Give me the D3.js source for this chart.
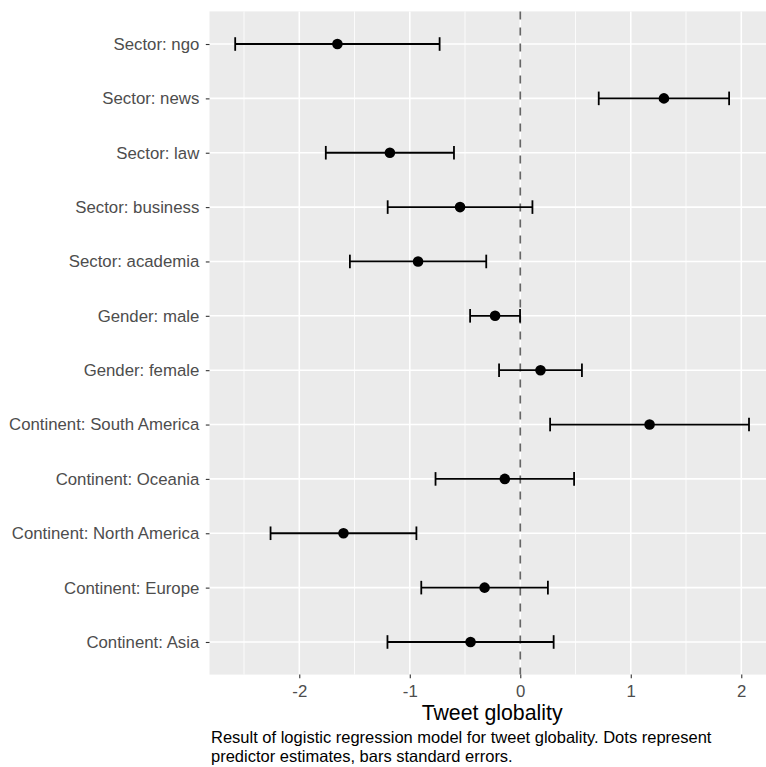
<!DOCTYPE html>
<html>
<head>
<meta charset="utf-8">
<script src="https://cdn.jsdelivr.net/npm/d3@7"></script>
<style>
    body { margin: 0; background: #fff; }
    text { font-family: "Liberation Sans", Arial, Helvetica, sans-serif; }
</style>
</head>
<body>
<div id="chart"></div>
<script>
/* coefficient plot: logistic regression for tweet globality */
const predictors = [
    "Sector: ngo", "Sector: news", "Sector: law", "Sector: business", "Sector: academia",
    "Gender: male", "Gender: female",
    "Continent: South America", "Continent: Oceania", "Continent: North America",
    "Continent: Europe", "Continent: Asia"
];
const estimates = [-1.655, 1.30, -1.18, -0.545, -0.925, -0.228, 0.183, 1.17, -0.14, -1.60, -0.323, -0.45];
const stdErrors = [0.925, 0.59, 0.58, 0.655, 0.617, 0.226, 0.375, 0.90, 0.627, 0.66, 0.573, 0.752];
const xTicks = [-2, -1, 0, 1, 2];
const xMinorTicks = [-2.5, -1.5, -0.5, 0.5, 1.5];
const captionLines = [
    "Result of logistic regression model for tweet globality. Dots represent",
    "predictor estimates, bars standard errors."
];

const rows = predictors.map((p, i) => ({
    name: p,
    est: estimates[i],
    lo: estimates[i] - stdErrors[i],
    hi: estimates[i] + stdErrors[i]
}));

const W = 766, H = 767;
const panel = { left: 209.5, top: 11.4, bottom: 674.6 };

const svg = d3.select("#chart")
    .append("svg")
    .attr("width", W)
    .attr("height", H);

// ggplot-like 5% expansion of the data range
const lo = d3.min(rows, d => d.lo), hi = d3.max(rows, d => d.hi);
const pad = (hi - lo) * 0.05;
const xScale = d3.scaleLinear()
    .domain([lo - pad, hi + pad])
    .range([panel.left, 774.7]);
const panelRight = xScale.range()[1];

const yScale = d3.scalePoint()
    .domain(predictors)
    .range([panel.top, panel.bottom])
    .padding(0.6);

// panel background
svg.append("rect")
    .attr("x", panel.left)
    .attr("y", panel.top)
    .attr("width", panelRight - panel.left)
    .attr("height", panel.bottom - panel.top)
    .attr("fill", "#EBEBEB");

// grid lines
svg.selectAll(".minor")
    .data(xMinorTicks)
    .enter().append("line")
    .attr("x1", d => xScale(d)).attr("x2", d => xScale(d))
    .attr("y1", panel.top).attr("y2", panel.bottom)
    .attr("stroke", "#fff").attr("stroke-width", 0.8);

svg.selectAll(".vmajor")
    .data(xTicks)
    .enter().append("line")
    .attr("x1", d => xScale(d)).attr("x2", d => xScale(d))
    .attr("y1", panel.top).attr("y2", panel.bottom)
    .attr("stroke", "#fff").attr("stroke-width", 1.6);

svg.selectAll(".hmajor")
    .data(predictors)
    .enter().append("line")
    .attr("x1", panel.left).attr("x2", panelRight)
    .attr("y1", d => yScale(d)).attr("y2", d => yScale(d))
    .attr("stroke", "#fff").attr("stroke-width", 1.6);

// reference line at zero
svg.append("line")
    .attr("x1", xScale(0)).attr("x2", xScale(0))
    .attr("y1", panel.top).attr("y2", panel.bottom)
    .attr("stroke", "#666")
    .attr("stroke-width", 1.7)
    .attr("stroke-dasharray", "8,8");

// error bars
const capH = yScale.step() * 0.125;
const bars = svg.selectAll(".bar")
    .data(rows)
    .enter().append("g")
    .attr("class", "bar")
    .attr("stroke", "#000")
    .attr("stroke-width", 1.8);

bars.append("line")
    .attr("x1", d => xScale(d.lo)).attr("x2", d => xScale(d.hi))
    .attr("y1", d => yScale(d.name)).attr("y2", d => yScale(d.name));
bars.append("line")
    .attr("x1", d => xScale(d.lo)).attr("x2", d => xScale(d.lo))
    .attr("y1", d => yScale(d.name) - capH).attr("y2", d => yScale(d.name) + capH);
bars.append("line")
    .attr("x1", d => xScale(d.hi)).attr("x2", d => xScale(d.hi))
    .attr("y1", d => yScale(d.name) - capH).attr("y2", d => yScale(d.name) + capH);

// point estimates
svg.selectAll(".dot")
    .data(rows)
    .enter().append("circle")
    .attr("class", "dot")
    .attr("cx", d => xScale(d.est))
    .attr("cy", d => yScale(d.name))
    .attr("r", 5.3)
    .attr("fill", "#000");

// axes
const xAxis = svg.append("g")
    .attr("transform", `translate(0,${panel.bottom})`)
    .call(d3.axisBottom(xScale).tickValues(xTicks).tickFormat(d => String(d)).tickSize(3.7).tickPadding(6.5));

const yAxis = svg.append("g")
    .attr("transform", `translate(${panel.left},0)`)
    .call(d3.axisLeft(yScale).tickSize(3.7).tickPadding(6.5));

[xAxis, yAxis].forEach(ax => {
    ax.select(".domain").remove();
    ax.selectAll(".tick line").attr("stroke", "#333").attr("stroke-width", 1.1);
    ax.selectAll(".tick text")
        .attr("fill", "#4D4D4D")
        .style("font-size", "16.8px")
        .style("font-family", "'Liberation Sans', Arial, sans-serif");
});

// axis title
svg.append("text")
    .attr("text-anchor", "middle")
    .attr("x", (panel.left + panelRight) / 2)
    .attr("y", 720)
    .style("font-size", "21.3px")
    .attr("fill", "#000")
    .text("Tweet globality");

// caption, two lines
svg.selectAll(".caption")
    .data(captionLines)
    .enter().append("text")
    .attr("class", "caption")
    .attr("x", 211)
    .attr("y", (d, i) => 742.5 + i * 19.5)
    .style("font-size", "16.5px")
    .attr("fill", "#000")
    .text(d => d);
</script>
</body>
</html>
